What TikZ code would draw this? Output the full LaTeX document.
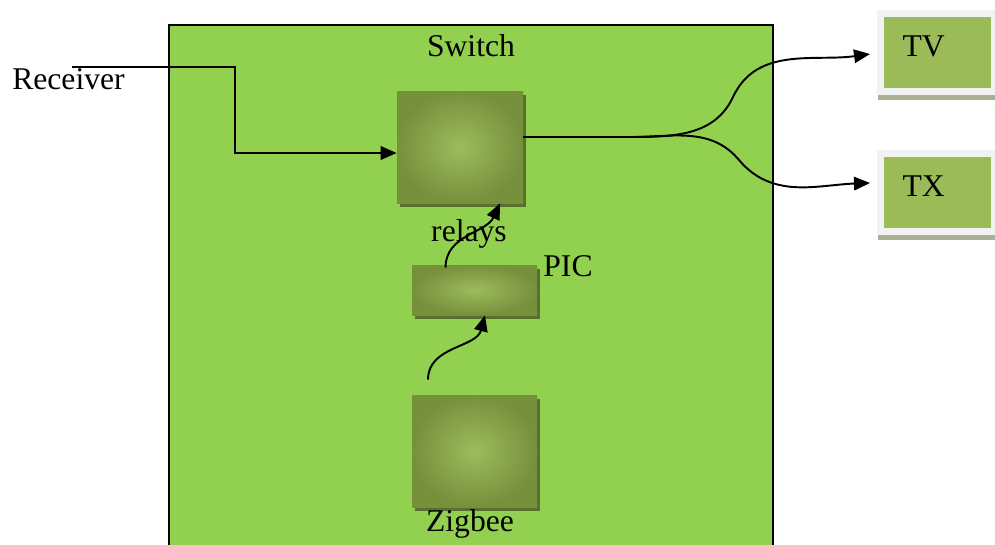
\documentclass[tikz,border=0pt]{standalone}
\usepackage{fontspec}
\setmainfont{Liberation Serif}
\usepackage{xcolor}
\usetikzlibrary{arrows.meta,shadows}
\definecolor{switchgreen}{RGB}{146,208,80}
\definecolor{blkin}{RGB}{157,188,92}
\definecolor{blkout}{RGB}{118,144,60}
\definecolor{blkshadow}{RGB}{90,110,45}
\definecolor{devgreen}{RGB}{155,187,89}
\definecolor{devframe}{RGB}{242,242,242}
\definecolor{devshadow}{RGB}{170,176,150}

\begin{document}
\begin{tikzpicture}[
  every node/.style={font=\fontsize{18}{21}\selectfont},
  switchbox/.style={draw,line width=0.6pt,fill=switchgreen,
              minimum width=12.08cm,minimum height=10.5cm},
  blk/.style={rectangle,inner color=blkin,outer color=blkout,
              minimum width=2.5cm,
              general shadow={fill=blkshadow,shadow xshift=0.05cm,shadow yshift=-0.08cm}},
  dev/.style={rectangle,fill=devgreen,draw=devframe,line width=0.14cm,
              minimum width=2.28cm,minimum height=1.56cm,
              text width=1.4cm,align=left,text height=0.5cm,text depth=0.34cm,
              general shadow={fill=devshadow,draw=devshadow,line width=0.14cm,
                              shadow xshift=0.02cm,shadow yshift=-0.1cm}},
  wire/.style={line width=1.1pt},
  arrow/.style={-{Triangle[length=0.32cm,width=0.27cm]},line width=1.1pt},
  ]

  \useasboundingbox (0,0) rectangle (19.9,-10.88);

  %─── Switch panel ──────────────────────────────────────────────────────────
  \node[switchbox] (switch) at (9.42,-5.75) {};
  \node (switchlbl) at (9.42,-0.92) {Switch};

  %─── Blocks inside the switch ──────────────────────────────────────────────
  \node[blk,minimum width=2.52cm,minimum height=2.24cm] (relays) at (9.2,-2.94) {};
  \node (relayslbl) at (9.38,-4.67) {relays};

  \node[blk,minimum height=1.0cm] (pic) at (9.49,-5.8) {};
  \node (piclbl) at (11.36,-5.32) {PIC};

  \node[blk,minimum height=2.24cm] (zig) at (9.49,-9.02) {};
  \node (ziglbl) at (9.4,-10.48) {Zigbee};

  %─── Outputs ───────────────────────────────────────────────────────────────
  \node[dev] (tv) at (18.75,-1.04) {TV};
  \node[dev] (tx) at (18.75,-3.84) {TX};

  %─── Receiver input ────────────────────────────────────────────────────────
  \node (rcv) at (1.37,-1.58) {Receiver};
  \coordinate (rx) at (1.44,-1.34);
  \draw[arrow]
    (rx) -- ++(3.26,0) |- ([yshift=-0.12cm]relays.west);

  %─── Zigbee -> PIC -> relays ───────────────────────────────────────────────
  \draw[arrow]
    ([xshift=-0.93cm,yshift=0.3cm]zig.north) to[out=90,in=-105]
    ([xshift=0.21cm]pic.south);
  \draw[arrow]
    ([xshift=-0.58cm,yshift=-0.06cm]pic.north) to[out=90,in=-115]
    ([xshift=0.8cm]relays.south);

  %─── relays -> TV / TX ─────────────────────────────────────────────────────
  \coordinate (split) at (12.6,-2.74);
  \draw[wire] ([yshift=0.2cm]relays.east) -- (split);
  \draw[arrow]
    (split) to[out=0,in=-115] (14.66,-1.94)
    to[out=65,in=188] ([xshift=-0.14cm,yshift=-0.04cm]tv.west);
  \draw[arrow]
    (split) to[out=0,in=130] (14.78,-3.2)
    to[out=-50,in=182] ([xshift=-0.14cm,yshift=0.18cm]tx.west);

\end{tikzpicture}
\end{document}
